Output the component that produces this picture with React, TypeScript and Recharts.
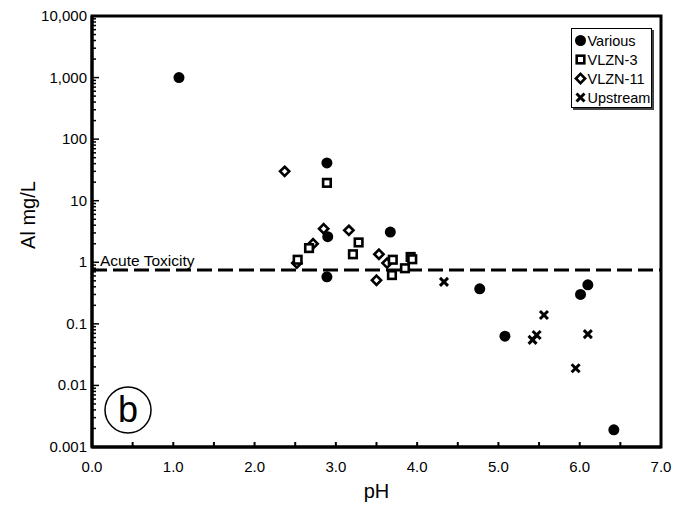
import React from 'react';
import {
  ScatterChart, Scatter, XAxis, YAxis, ReferenceLine, ReferenceArea, ReferenceDot, Legend
} from 'recharts';

// values (pH vs dissolved Al, mg/L)
const variousPh = [1.07, 2.89, 2.9, 2.89, 3.67, 4.77, 5.08, 6.01, 6.1, 6.42];
const variousAl = [1000, 41, 2.6, 0.58, 3.1, 0.37, 0.063, 0.3, 0.43, 0.0019];

const vlzn3Ph = [2.89, 2.53, 2.67, 3.21, 3.28, 3.7, 3.69, 3.85, 3.92, 3.94];
const vlzn3Al = [19.5, 1.1, 1.7, 1.35, 2.1, 1.1, 0.62, 0.8, 1.22, 1.12];

const vlzn11Ph = [2.37, 2.85, 3.16, 2.72, 2.52, 3.53, 3.63, 3.5];
const vlzn11Al = [30, 3.5, 3.3, 2.0, 0.97, 1.35, 0.97, 0.51];

const upstreamPh = [4.33, 5.42, 5.47, 5.56, 5.95, 6.1];
const upstreamAl = [0.48, 0.055, 0.066, 0.139, 0.019, 0.068];

const seriesNames = ['Various', 'VLZN-3', 'VLZN-11', 'Upstream'];

const acuteToxicity = 0.75;

const xTicks = [0, 0.5, 1, 1.5, 2, 2.5, 3, 3.5, 4, 4.5, 5, 5.5, 6, 6.5, 7];
const yMajor = [0.001, 0.01, 0.1, 1, 10, 100, 1000, 10000];
const yMajorLabels = ['0.001', '0.01', '0.1', '1', '10', '100', '1,000', '10,000'];
const yMinorSteps = [2, 3, 4, 5, 6, 7, 8, 9];

const yTicks: number[] = [];
yMajor.forEach((d, i) => {
  yTicks.push(d);
  if (i < yMajor.length - 1) yMinorSteps.forEach((m) => yTicks.push(d * m));
});

const toPoints = (ph: number[], al: number[]) => ph.map((p, i) => ({ ph: p, al: al[i] }));

const FONT = '"Liberation Sans", Arial, sans-serif';

const drawMarker = (kind: string, cx: number, cy: number) => {
  if (kind === 'Various') return <circle cx={cx} cy={cy} r={5.5} fill="#000" />;
  if (kind === 'VLZN-3')
    return <rect x={cx - 3.8} y={cy - 3.8} width={7.6} height={7.6} fill="#fff" stroke="#000" strokeWidth={2.6} />;
  if (kind === 'VLZN-11')
    return (
      <polygon
        points={`${cx},${cy - 4.6} ${cx + 4.6},${cy} ${cx},${cy + 4.6} ${cx - 4.6},${cy}`}
        fill="#fff" stroke="#000" strokeWidth={2.6}
      />
    );
  return (
    <g stroke="#000" strokeWidth={3}>
      <line x1={cx - 4} y1={cy - 4} x2={cx + 4} y2={cy + 4} />
      <line x1={cx - 4} y1={cy + 4} x2={cx + 4} y2={cy - 4} />
    </g>
  );
};

const shapeFor = (kind: string) => (props: any) => drawMarker(kind, props.cx, props.cy);

const XTick = (props: any) => {
  const { x, y, payload } = props;
  const v = payload.value;
  const isInt = Math.abs(v - Math.round(v)) < 1e-6;
  return (
    <g>
      <line x1={x} x2={x} y1={y} y2={y - 5} stroke="#000" strokeWidth={2} />
      {isInt && (
        <text x={x} y={y + 25} textAnchor="middle" fontSize={15} fontFamily={FONT} fill="#000">
          {v.toFixed(1)}
        </text>
      )}
    </g>
  );
};

const YTick = (props: any) => {
  const { x, y, payload } = props;
  const i = yMajor.findIndex((d) => Math.abs(d - payload.value) / d < 1e-6);
  const major = i >= 0;
  return (
    <g>
      <line x1={x} x2={x + (major ? 7 : 4)} y1={y} y2={y} stroke="#000" strokeWidth={1.5} />
      {major && (
        <text x={x - 5} y={y + 5} textAnchor="end" fontSize={15} fontFamily={FONT} fill="#000">
          {yMajorLabels[i]}
        </text>
      )}
    </g>
  );
};

const LegendBox = () => (
  <div
    style={{
      width: 81, height: 80, boxSizing: 'border-box', border: '1.5px solid #000',
      boxShadow: '2px 2px 0 #444', background: '#fff', padding: '2px 0 0 1.5px',
      fontFamily: FONT, fontSize: 14.5, color: '#000',
    }}
  >
    {seriesNames.map((n) => (
      <div key={n} style={{ height: 19, display: 'flex', alignItems: 'center' }}>
        <svg width={13} height={13} style={{ marginRight: 1 }}>
          {drawMarker(n, 6.5, 6.5)}
        </svg>
        <span>{n}</span>
      </div>
    ))}
  </div>
);

export default function App() {
  return (
    <div style={{ position: 'absolute', left: 0, top: 0, background: '#fff' }}>
      <ScatterChart width={675} height={507} margin={{ top: 16, right: 14, bottom: 0, left: 0 }}>
        <XAxis
          type="number" dataKey="ph" domain={[0, 7]} ticks={xTicks} interval={0}
          allowDataOverflow height={60} tickSize={0} tickMargin={0} tickLine={false}
          axisLine={{ stroke: '#000', strokeWidth: 3 }} tick={<XTick />}
          label={(p: any) => (
            <text
              x={p.viewBox.x + p.viewBox.width / 2} y={p.viewBox.y + 51}
              textAnchor="middle" fontSize={20} fontFamily={FONT} fill="#000"
            >
              pH
            </text>
          )}
        />
        <YAxis
          type="number" dataKey="al" scale="log" domain={[0.001, 10000]} ticks={yTicks}
          interval={0} allowDataOverflow width={92} tickSize={0} tickMargin={0} tickLine={false}
          axisLine={{ stroke: '#000', strokeWidth: 3 }} tick={<YTick />}
          label={() => (
            <text
              transform="translate(35,215) rotate(-90)" textAnchor="middle"
              fontSize={20} fontFamily={FONT} fill="#000"
            >
              Al mg/L
            </text>
          )}
        />
        <ReferenceArea
          x1={0} x2={7} y1={0.001} y2={10000} fill="none" fillOpacity={0}
          stroke="#000" strokeWidth={3}
        />
        <ReferenceLine
          y={acuteToxicity} stroke="#000" strokeWidth={3} strokeDasharray="15 6"
          label={(p: any) => (
            <text x={p.viewBox.x + 8} y={p.viewBox.y - 4} fontSize={15.5} fontFamily={FONT} fill="#000">
              Acute Toxicity
            </text>
          )}
        />
        <ReferenceDot
          x={0.443} y={0.004} r={23}
          shape={(p: any) => (
            <g>
              <circle cx={p.cx} cy={p.cy} r={23} fill="#fff" stroke="#000" strokeWidth={1.5} />
              <text x={p.cx} y={p.cy + 12} textAnchor="middle" fontSize={36} fontFamily={FONT} fill="#000">
                b
              </text>
            </g>
          )}
        />
        <Legend
          layout="vertical" align="center" verticalAlign="middle"
          wrapperStyle={{ top: 28, left: 571, width: 81, height: 80 }}
          content={<LegendBox />}
        />
        <Scatter name="VLZN-11" data={toPoints(vlzn11Ph, vlzn11Al)} shape={shapeFor('VLZN-11')} isAnimationActive={false} />
        <Scatter name="VLZN-3" data={toPoints(vlzn3Ph, vlzn3Al)} shape={shapeFor('VLZN-3')} isAnimationActive={false} />
        <Scatter name="Various" data={toPoints(variousPh, variousAl)} shape={shapeFor('Various')} isAnimationActive={false} />
        <Scatter name="Upstream" data={toPoints(upstreamPh, upstreamAl)} shape={shapeFor('Upstream')} isAnimationActive={false} />
      </ScatterChart>
    </div>
  );
}
